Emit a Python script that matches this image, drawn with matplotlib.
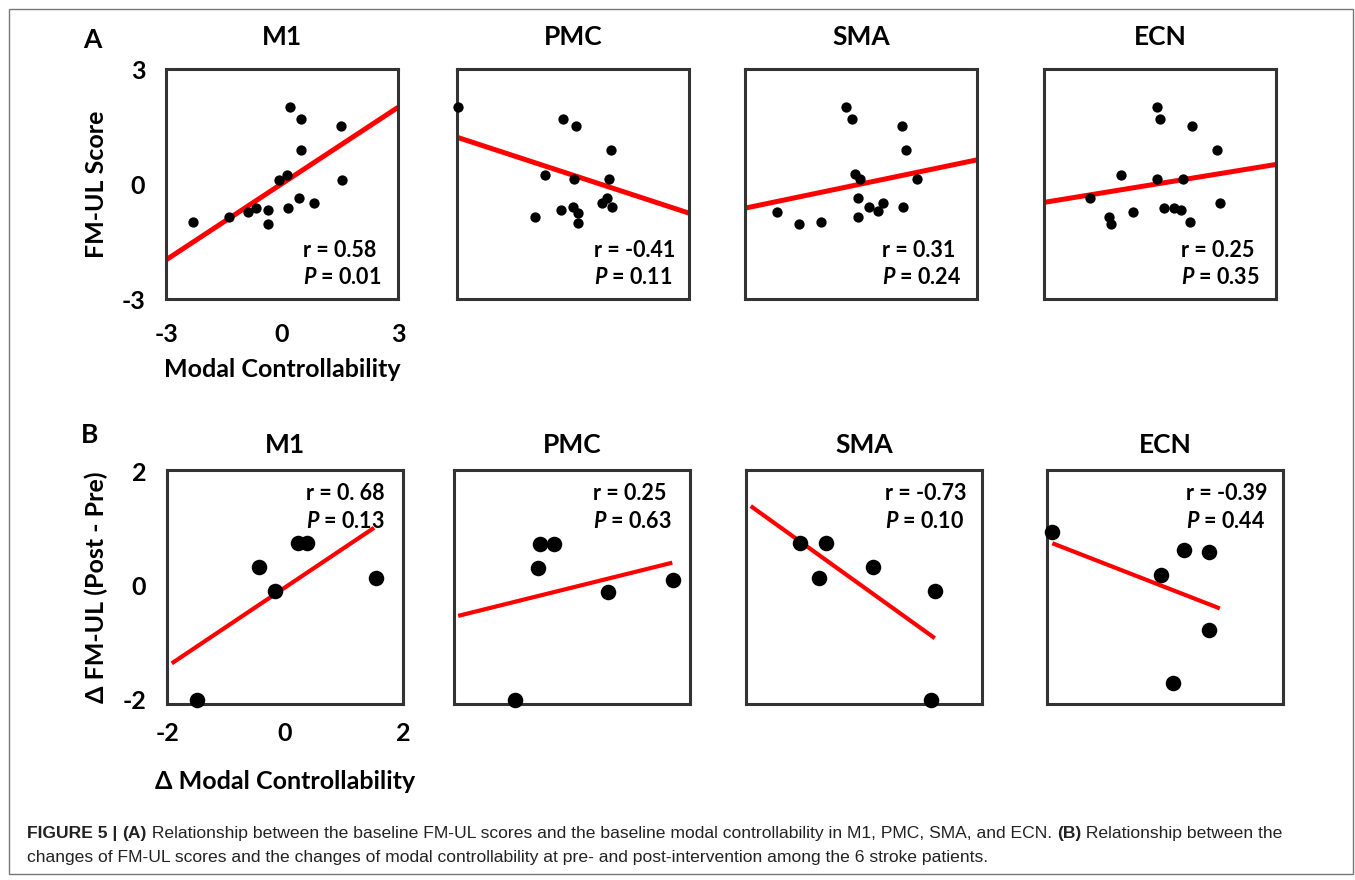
import matplotlib
matplotlib.use("Agg")
import matplotlib.pyplot as plt
from matplotlib import font_manager
from matplotlib.patches import Rectangle

# ---- data ----
regions = ["M1", "PMC", "SMA", "ECN"]

# panel A: baseline FM-UL vs baseline modal controllability (16 patients)
a_m1_x = [-2.31, -1.36, -0.89, -0.67, -0.35, -0.35, -0.07, 0.14, 0.21, 0.48, 0.49, 0.16, 0.43, 0.82, 1.53, 1.55]
a_m1_y = [-0.98, -0.87, -0.74, -0.63, -0.68, -1.04, 0.10, 0.23, 2.00, 1.70, 0.90, -0.63, -0.37, -0.50, 1.51, 0.10]
a_pmc_x = [-2.97, -0.25, 0.08, 0.98, -0.72, 0.03, 0.93, 0.89, 0.75, 1.02, -0.99, -0.31, -0.01, 0.14, 0.14]
a_pmc_y = [2.02, 1.70, 1.51, 0.90, 0.23, 0.12, 0.12, -0.36, -0.49, -0.61, -0.85, -0.68, -0.61, -0.75, -1.03]
a_sma_x = [-0.39, -0.24, 1.05, 1.16, -0.16, -0.03, 1.46, -0.09, 0.21, 0.45, 0.58, 1.09, -0.09, -2.16, -1.60, -1.03]
a_sma_y = [2.02, 1.70, 1.52, 0.90, 0.25, 0.12, 0.12, -0.36, -0.61, -0.70, -0.49, -0.61, -0.85, -0.74, -1.04, -0.98]
a_ecn_x = [-0.09, 0.00, 0.82, 1.47, -1.02, -0.09, 0.59, -1.80, 1.56, 0.10, 0.36, 0.54, -0.71, -1.32, -1.27, 0.78]
a_ecn_y = [2.00, 1.70, 1.51, 0.90, 0.23, 0.12, 0.12, -0.37, -0.50, -0.62, -0.62, -0.69, -0.74, -0.85, -1.04, -0.98]
a_line_x = [(-3, 3), (-3, 3), (-3, 3), (-3, 3)]
a_line_y = [(-1.98, 2.00), (1.22, -0.76), (-0.63, 0.63), (-0.48, 0.51)]
a_r = ["0.58", "-0.41", "0.31", "0.25"]
a_p = ["0.01", "0.11", "0.24", "0.35"]

# panel B: change scores (6 patients)
b_m1_x = [-1.50, -0.44, -0.17, 0.22, 0.37, 1.54]
b_m1_y = [-2.00, 0.33, -0.09, 0.75, 0.75, 0.13]
b_pmc_x = [-0.97, -0.54, -0.30, -0.57, 0.61, 1.72]
b_pmc_y = [-2.00, 0.72, 0.72, 0.31, -0.11, 0.10]
b_sma_x = [-1.09, -0.65, -0.77, 0.15, 1.21, 1.13]
b_sma_y = [0.75, 0.75, 0.13, 0.33, -0.09, -2.00]
b_ecn_x = [-1.92, 0.33, 0.75, -0.07, 0.75, 0.13]
b_ecn_y = [0.94, 0.62, 0.59, 0.18, -0.78, -1.71]
b_line_x = [(-1.92, 1.51), (-1.93, 1.70), (-1.92, 1.20), (-1.91, 0.93)]
b_line_y = [(-1.36, 1.01), (-0.53, 0.40), (1.39, -0.92), (0.74, -0.40)]
b_r = ["0. 68", "0.25", "-0.73", "-0.39"]
b_p = ["0.13", "0.63", "0.10", "0.44"]

a_x = [a_m1_x, a_pmc_x, a_sma_x, a_ecn_x]
a_y = [a_m1_y, a_pmc_y, a_sma_y, a_ecn_y]
b_x = [b_m1_x, b_pmc_x, b_sma_x, b_ecn_x]
b_y = [b_m1_y, b_pmc_y, b_sma_y, b_ecn_y]

caption1 = [("FIGURE 5 | ", "bold"), ("(A)", "bold"),
            (" Relationship between the baseline FM-UL scores and the baseline modal controllability in M1, PMC, SMA, and ECN. ", "normal"),
            ("(B)", "bold"), (" Relationship between the", "normal")]
caption2 = [("changes of FM-UL scores and the changes of modal controllability at pre- and post-intervention among the 6 stroke patients.", "normal")]

# ---- style ----
plt.rcParams['font.family'] = ['Lato', 'DejaVu Sans']
plt.rcParams['font.weight'] = 'bold'
plt.rcParams['axes.unicode_minus'] = False
plt.rcParams['mathtext.fontset'] = 'custom'
plt.rcParams['mathtext.it'] = 'Lato:italic:bold'
plt.rcParams['mathtext.rm'] = 'Lato:bold'

W, H = 1355, 880
fig = plt.figure(figsize=(W / 100, H / 100), dpi=100)


def add_box(left, top, w, h):
    return fig.add_axes([left / W, 1 - (top + h) / H, w / W, h / H])


def style(ax):
    for s in ax.spines.values():
        s.set_color('#333333')
        s.set_linewidth(2.2)
    ax.tick_params(length=0, labelsize=18)


a_left = [166, 457, 745, 1044]
b_left = [167, 454, 746, 1047]
txt = 15.5

for i in range(4):
    ax = add_box(a_left[i], 69, 232, 230)
    style(ax)
    ax.plot(a_line_x[i], a_line_y[i], color='#ff0000', lw=3.6, zorder=2, solid_capstyle='butt')
    ax.scatter(a_x[i], a_y[i], s=55, color='black', zorder=3, clip_on=False, linewidths=0)
    ax.set_xlim(-3, 3)
    ax.set_ylim(-3, 3)
    ax.set_title(regions[i], fontsize=19, fontweight='bold', pad=17)
    ax.text(0.59, 0.21, "r = " + a_r[i], transform=ax.transAxes, fontsize=txt, va='center')
    ax.text(0.59, 0.095, "$P$ = " + a_p[i], transform=ax.transAxes, fontsize=txt, va='center')
    if i == 0:
        ax.set_xticks([-3, 0, 3])
        ax.set_yticks([-3, 0, 3])
        ax.tick_params(axis='y', pad=15)
        ax.tick_params(axis='x', pad=17)
        ax.set_xlabel("Modal Controllability", fontsize=18, fontweight='bold', labelpad=9)
        ax.set_ylabel("FM-UL Score", fontsize=18, fontweight='bold', labelpad=10)
    else:
        ax.set_xticks([])
        ax.set_yticks([])

for i in range(4):
    ax = add_box(b_left[i], 470, 236, 234)
    style(ax)
    ax.plot(b_line_x[i], b_line_y[i], color='#ff0000', lw=3.0, zorder=2, solid_capstyle='butt')
    ax.scatter(b_x[i], b_y[i], s=125, color='black', zorder=3, clip_on=False, linewidths=0)
    ax.set_xlim(-2, 2)
    ax.set_ylim(-2.07, 2.02)
    ax.set_title(regions[i], fontsize=19, fontweight='bold', pad=12)
    ax.text(0.59, 0.90, "r = " + b_r[i], transform=ax.transAxes, fontsize=txt, va='center')
    ax.text(0.59, 0.78, "$P$ = " + b_p[i], transform=ax.transAxes, fontsize=txt, va='center')
    if i == 0:
        ax.set_xticks([-2, 0, 2])
        ax.set_yticks([-2, 0, 2])
        ax.tick_params(axis='y', pad=15)
        ax.tick_params(axis='x', pad=13)
        ax.set_xlabel("Δ Modal Controllability", fontsize=18, fontweight='bold', labelpad=18)
        ax.set_ylabel("Δ FM-UL (Post - Pre)", fontsize=18, fontweight='bold', labelpad=10)
    else:
        ax.set_xticks([])
        ax.set_yticks([])

fig.text(92 / W, 1 - 40 / H, "A", fontsize=19, fontweight='bold', ha='center', va='center')
fig.text(90 / W, 1 - 435 / H, "B", fontsize=19, fontweight='bold', ha='center', va='center')

# caption, with mixed weights
try:
    font_manager.findfont("Liberation Sans Narrow", fallback_to_default=False)
    cap_font = ["Liberation Sans Narrow", "DejaVu Sans"]
except Exception:
    cap_font = ["Liberation Sans", "DejaVu Sans"]

fig.canvas.draw()
renderer = fig.canvas.get_renderer()


def caption_line(parts, x_px, y_px, size):
    x = x_px
    for s, w in parts:
        t = fig.text(x / W, 1 - y_px / H, s, fontsize=size, fontweight=w,
                     family=cap_font, va='center', ha='left', color='#222222')
        x += t.get_window_extent(renderer).width


caption_line(caption1, 27, 833, 12.6)
caption_line(caption2, 27, 857, 12.6)

fig.add_artist(Rectangle((9 / W, 1 - 874 / H), 1344 / W, 865 / H, transform=fig.transFigure,
                         fill=False, edgecolor='#777777', lw=1))

fig.savefig("out.png", dpi=100)
